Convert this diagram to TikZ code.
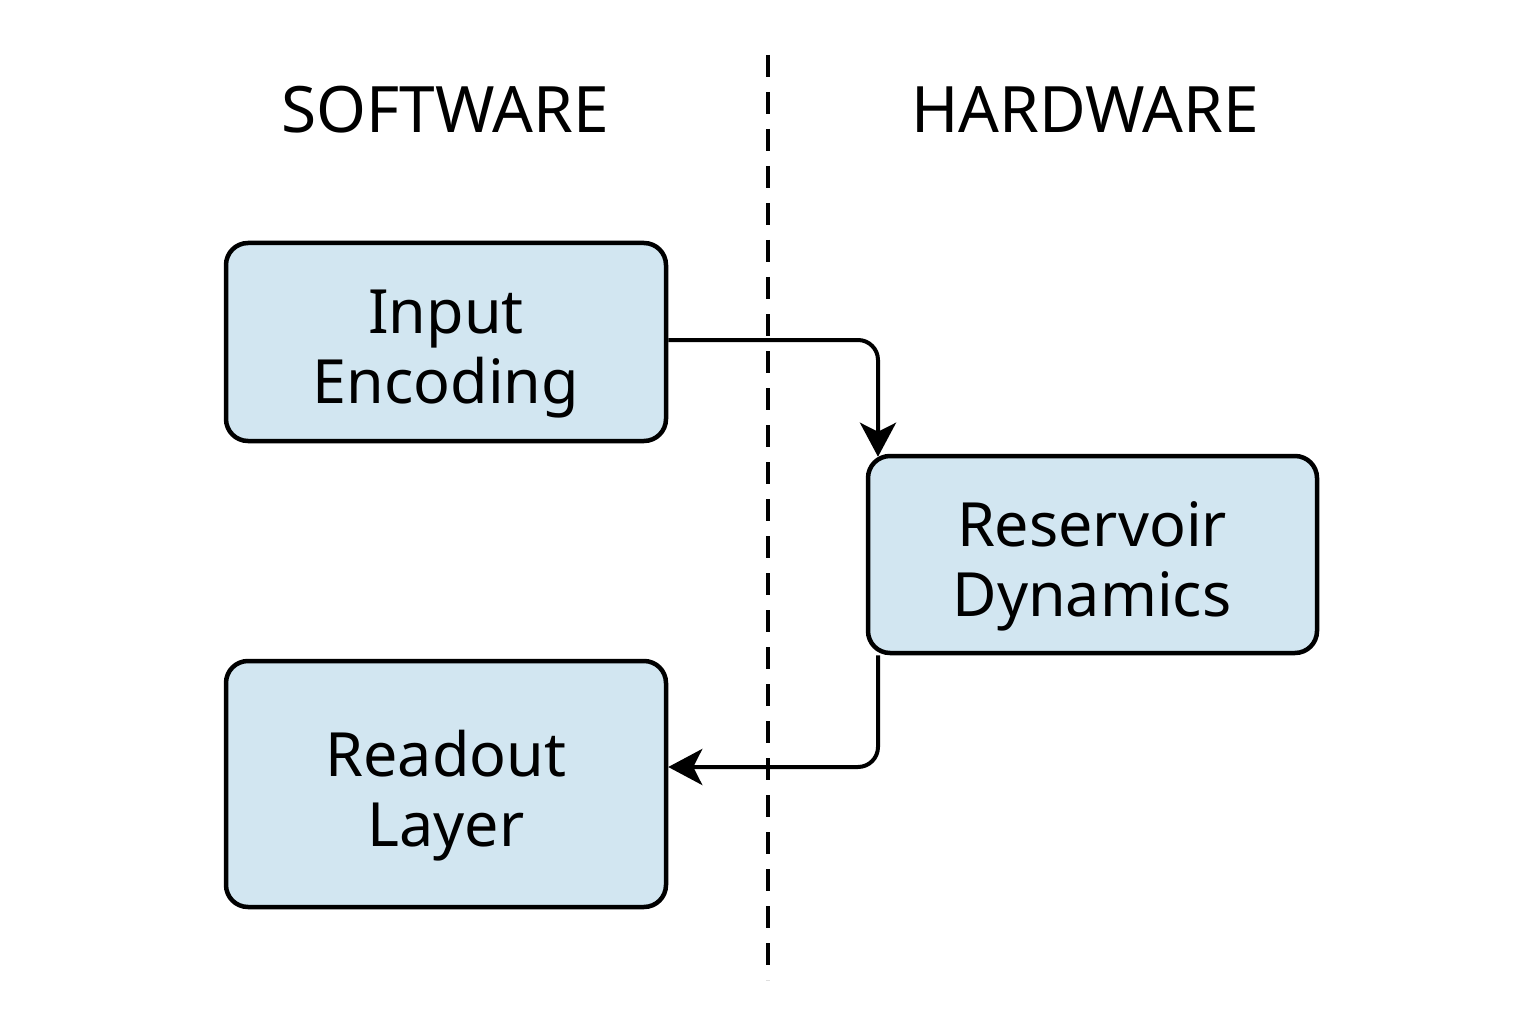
\documentclass[tikz,border=0pt]{standalone}
\usepackage{fontspec}
\setmainfont{Noto Sans}
\usetikzlibrary{arrows.meta}
\definecolor{boxfill}{HTML}{D2E6F1}
\tikzset{
  blk/.style={draw=black, line width=4.5pt, fill=boxfill, rounded corners=22pt, minimum width=440pt, inner sep=0pt},
  lbl/.style={align=center, font=\fontsize{61}{70}\selectfont, inner sep=0pt},
  conn/.style={line width=4pt, rounded corners=20pt, -{Stealth[length=34pt,width=36pt,inset=9pt]}},
  title/.style={font=\fontsize{64}{70}\selectfont}
}
\begin{document}
\begin{tikzpicture}[x=1pt,y=-1pt]
\useasboundingbox[fill=white] (0,0) rectangle (1536,1024);
\node[title] (sw) at (445,110) {SOFTWARE};
\node[title] (hw) at (1085,110) {HARDWARE};
\coordinate (dtop) at (768,55);
\coordinate (dbot) at (768,980);
\draw[line width=3.2pt, dash pattern=on 22pt off 15pt] (dtop) -- (dbot);
\node[blk, minimum height=198pt] (inp) at (446,342) {};
\node[blk, minimum width=449pt, minimum height=197pt] (res) at (1092.5,554.5) {};
\node[blk, minimum height=246pt] (rd) at (446,784) {};
\node[lbl] (inpT) at (446,354) {Input\\Encoding};
\node[lbl] (resT) at (1092,566) {Reservoir\\Dynamics};
\node[lbl] (rdT) at (446,796) {Readout\\Layer};
\coordinate (c1) at (878,340);
\coordinate (c2) at (878,767);
\draw[conn] (inp.east |- c1) -- (c1) -- ([yshift=-3pt]res.north -| c1);
\draw[conn] (res.south -| c2) -- (c2) -- (rd.east |- c2);
\end{tikzpicture}
\end{document}
